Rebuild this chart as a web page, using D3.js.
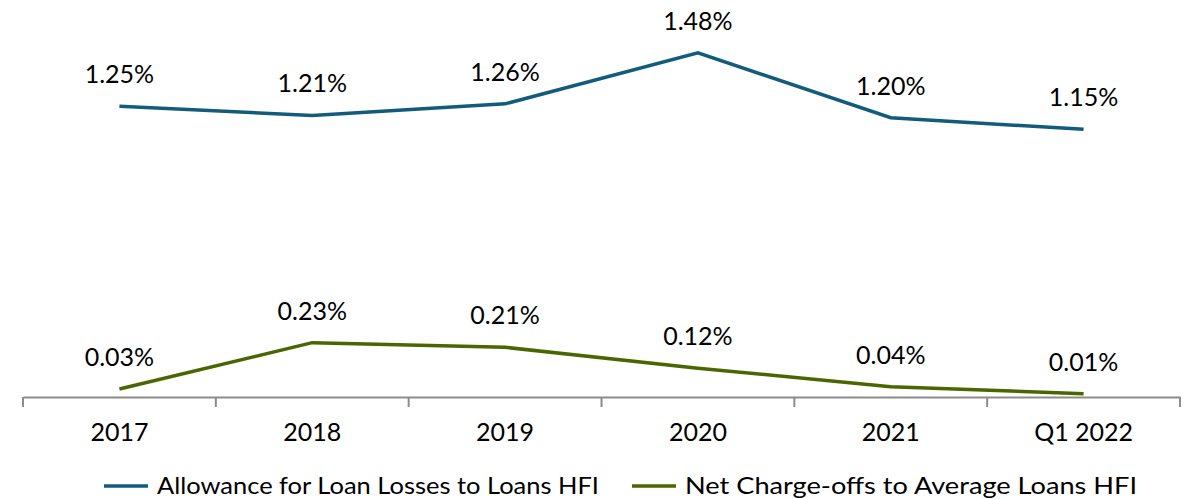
<!DOCTYPE html>
<html>
<head>
<meta charset="utf-8">
<script src="https://cdn.jsdelivr.net/npm/d3@7"></script>
<style>
  body { margin: 0; background: #fff; }
  text { font-family: Lato, "Open Sans", sans-serif; fill: #000; }
</style>
</head>
<body>
<div id="grafico"></div>
<script>
const categorias = ["2017", "2018", "2019", "2020", "2021", "Q1 2022"];
const reserva = [1.25, 1.21, 1.26, 1.48, 1.2, 1.15];
const castigos = [0.03, 0.23, 0.21, 0.12, 0.04, 0.01];
const series = [
  { nombre: "Allowance for Loan Losses to Loans HFI", valores: reserva, color: "#135b7d" },
  { nombre: "Net Charge-offs to Average Loans HFI", valores: castigos, color: "#4b6600" }
];

const width = 1193;
const height = 499;

const svg = d3
  .select("#grafico")
  .append("svg")
  .attr("width", width)
  .attr("height", height);

const x = d3.scaleBand().domain(categorias).range([23, 1180]);
const y = d3.scaleLinear().domain([0, 1.6]).range([396, 25]);

// eje x
const ejeX = svg
  .append("g")
  .attr("transform", "translate(0,397)")
  .call(d3.axisBottom(x).tickSize(0).tickPadding(26));
ejeX.select(".domain").attr("stroke", "#8c8c8c").attr("stroke-width", 2);
ejeX.selectAll("text").style("font-size", "25px").attr("font-family", null);

// marcas entre categorias
const bordes = categorias.map((c) => x(c)).concat([x.range()[1]]);
ejeX
  .selectAll("line.borde")
  .data(bordes)
  .join("line")
  .attr("class", "borde")
  .attr("x1", (d) => d)
  .attr("x2", (d) => d)
  .attr("y1", 0)
  .attr("y2", 10)
  .attr("stroke", "#8c8c8c")
  .attr("stroke-width", 2);

const linea = d3
  .line()
  .x((d, i) => x(categorias[i]) + x.bandwidth() / 2)
  .y((d) => y(d));

series.forEach((s) => {
  svg
    .append("path")
    .datum(s.valores)
    .attr("d", linea)
    .attr("fill", "none")
    .attr("stroke", s.color)
    .attr("stroke-width", 3.5);

  svg
    .append("g")
    .selectAll("text")
    .data(s.valores)
    .join("text")
    .attr("x", (d, i) => x(categorias[i]) + x.bandwidth() / 2)
    .attr("y", (d) => y(d) - 23)
    .attr("text-anchor", "middle")
    .style("font-size", "25px")
    .text((d) => d.toFixed(2) + "%");
});

// leyenda
const leyenda = svg.append("g").attr("transform", "translate(0,486)");
const posiciones = [104, 632];
const anchos = [442, 452];
series.forEach((s, i) => {
  leyenda
    .append("line")
    .attr("x1", posiciones[i])
    .attr("x2", posiciones[i] + 44)
    .attr("stroke", s.color)
    .attr("stroke-width", 3.5);
  leyenda
    .append("text")
    .attr("x", posiciones[i] + 53)
    .attr("y", 8)
    .attr("textLength", anchos[i])
    .attr("lengthAdjust", "spacingAndGlyphs")
    .style("font-size", "23px")
    .text(s.nombre);
});
</script>
</body>
</html>
